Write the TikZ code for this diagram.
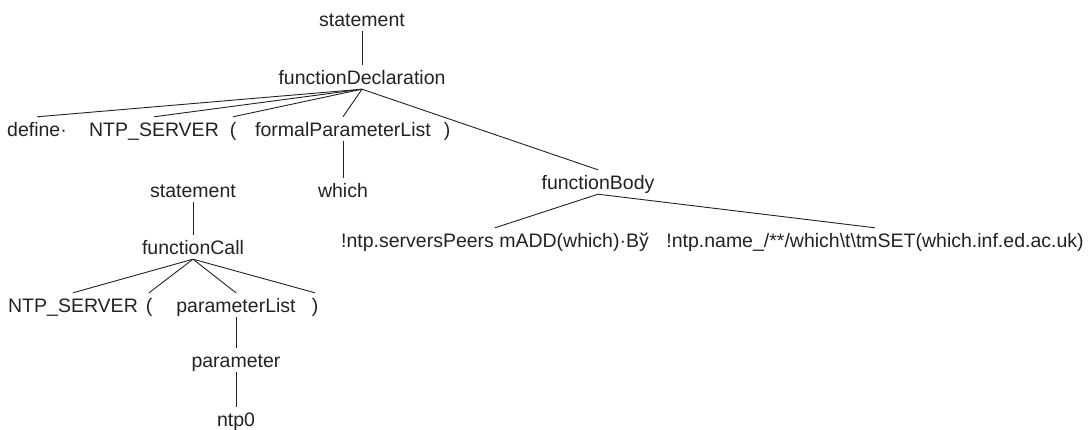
\documentclass[tikz,border=0pt]{standalone}
\usepackage{fontspec}
\setmainfont{Liberation Sans}
\usetikzlibrary{positioning}
\usepackage{xcolor}
\definecolor{treeink}{HTML}{222222}

\begin{document}
\begin{tikzpicture}[x=1pt,y=-1pt,
  tok/.style={font=\fontsize{19.5}{23}\selectfont,text=treeink,inner sep=0pt,anchor=base,text height=20pt,text depth=4pt},
  branch/.style={draw=treeink,line width=0.9pt}]
  \useasboundingbox (0,0) rectangle (1088,430);
  % declaration tree
  \node[tok] (st1) at (362,27) {statement};
  \node[tok] (fdecl) at (362,85) {functionDeclaration};
  \node[tok] (def) at (37,137) {define·};
  \node[tok] (name1) at (154,137) {NTP\_SERVER};
  \node[tok] (lpar1) at (233,137) {(};
  \node[tok] (fplist) at (343,137) {formalParameterList};
  \node[tok] (rpar1) at (447,137) {)};
  \node[tok] (which) at (343,198) {which};
  \node[tok] (fbody) at (598,190) {functionBody};
  \node[tok] (body1) at (495,248) {!ntp.serversPeers mADD(which)·Bў};
  \node[tok] (body2) at (875,248) {!ntp.name\_/**/which\textbackslash t\textbackslash tmSET(which.inf.ed.ac.uk)};
  % call tree
  \node[tok] (st2) at (193,198) {statement};
  \node[tok] (fcall) at (193,255) {functionCall};
  \node[tok] (name2) at (73,313) {NTP\_SERVER};
  \node[tok] (lpar2) at (149,313) {(};
  \node[tok] (plist) at (236,313) {parameterList};
  \node[tok] (rpar2) at (315,313) {)};
  \node[tok] (param) at (236,368) {parameter};
  \node[tok] (arg) at (236,427) {ntp0};
  % branches
  \foreach \p/\c in {st1/fdecl, fdecl/def, fdecl/name1, fdecl/lpar1, fdecl/fplist, fdecl/fbody,
                     fplist/which, fbody/body1, fbody/body2,
                     st2/fcall, fcall/name2, fcall/lpar2, fcall/plist, fcall/rpar2,
                     plist/param, param/arg}
    \draw[branch] (\p.south) -- (\c.north);
\end{tikzpicture}
\end{document}
